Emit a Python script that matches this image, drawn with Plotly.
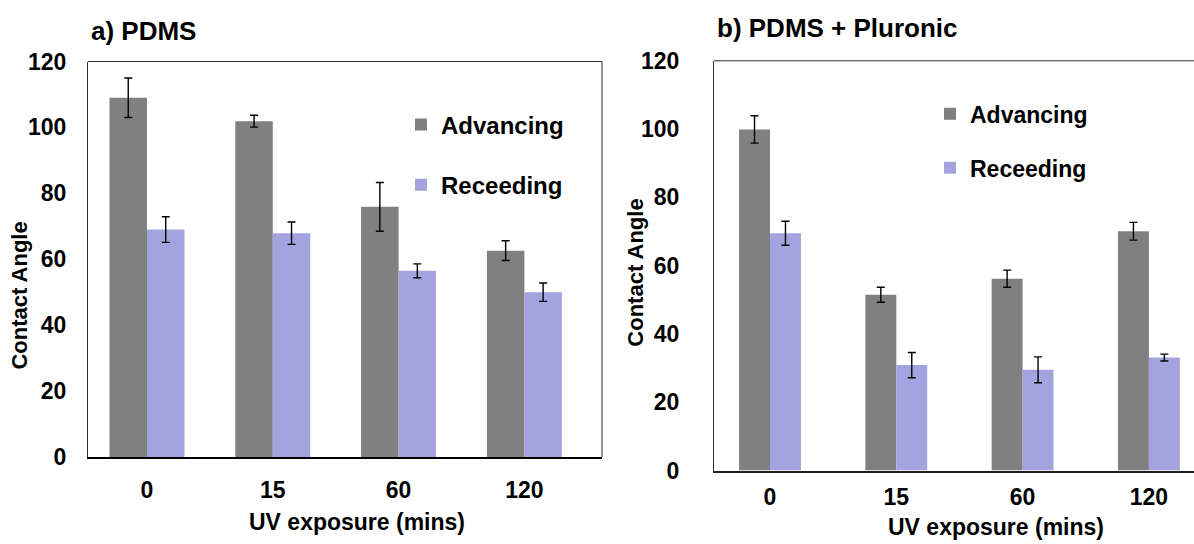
import plotly.graph_objects as go

# UV exposure times (minutes)
categories = ["0", "15", "60", "120"]

# a) PDMS: contact angles (degrees) and standard deviations
pdms_advancing = [109.0, 101.9, 75.9, 62.6]
pdms_advancing_err = [6.0, 1.8, 7.4, 3.0]
pdms_receding = [69.0, 67.9, 56.5, 50.0]
pdms_receding_err = [3.9, 3.4, 2.1, 2.8]

# b) PDMS + Pluronic: contact angles (degrees) and standard deviations
plu_advancing = [99.9, 51.5, 56.2, 70.1]
plu_advancing_err = [4.0, 2.2, 2.5, 2.6]
plu_receding = [69.5, 30.9, 29.5, 33.1]
plu_receding_err = [3.5, 3.7, 3.8, 1.0]

y_ticks = [0, 20, 40, 60, 80, 100, 120]

GRAY = "#808080"
LILAC = "#A3A3DF"
FONT = "Liberation Sans, Arial, sans-serif"
W, H = 1194, 544

# layout rows are given in screen pixels; the page shows the figure
# with a small top inset and a slight vertical squeeze
TOP_INSET, V_SCALE = 12.3, 0.956


def col(v):
    """Screen x pixel -> paper fraction."""
    return min(1.0, max(0.0, v / W))


def row(v):
    """Screen y pixel (from top) -> paper fraction."""
    fy = (v - TOP_INSET) / V_SCALE
    return min(1.0, max(0.0, 1 - fy / H))


def err(arr):
    return dict(type="data", array=arr, visible=True, color="black",
                thickness=1.4, width=4)


fig = go.Figure()

# panel a bars
wa = 0.298
fig.add_trace(go.Bar(x=categories, y=pdms_advancing, error_y=err(pdms_advancing_err),
                     marker=dict(color=GRAY, line=dict(width=0)), width=wa, offset=-wa,
                     name="Advancing", legend="legend", legendgroup="a_adv",
                     xaxis="x", yaxis="y"))
fig.add_trace(go.Bar(x=categories, y=pdms_receding, error_y=err(pdms_receding_err),
                     marker=dict(color=LILAC, line=dict(width=0)), width=wa, offset=0,
                     name="Receeding", legend="legend", legendgroup="a_rec",
                     xaxis="x", yaxis="y"))

# panel b bars
wb = 0.245
fig.add_trace(go.Bar(x=categories, y=plu_advancing, error_y=err(plu_advancing_err),
                     marker=dict(color=GRAY, line=dict(width=0)), width=wb, offset=-wb,
                     name="Advancing", legend="legend2", legendgroup="b_adv",
                     xaxis="x2", yaxis="y2"))
fig.add_trace(go.Bar(x=categories, y=plu_receding, error_y=err(plu_receding_err),
                     marker=dict(color=LILAC, line=dict(width=0)), width=wb, offset=0,
                     name="Receeding", legend="legend2", legendgroup="b_rec",
                     xaxis="x2", yaxis="y2"))

tickfont = dict(family=FONT, size=23, color="black", weight="bold")

ax_common = dict(type="category", showgrid=False, zeroline=False, ticks="",
                 tickfont=tickfont, fixedrange=True)
ay_common = dict(range=[0, 120], tickvals=y_ticks, showgrid=False, zeroline=False,
                 ticks="", tickfont=tickfont, showline=True, linecolor="#303030",
                 linewidth=1, fixedrange=True)

# right panel runs off the page edge; its category band is ~126.3 px
band_b = 126.3
b_left, b_first = 714, 770
b_range = [-(b_first - b_left) / band_b, (W - b_first) / band_b]

fig.update_layout(
    width=W, height=H,
    margin=dict(l=0, r=0, t=0, b=0),
    paper_bgcolor="white", plot_bgcolor="white",
    barmode="overlay",
    font=dict(family=FONT, color="black", weight="bold"),
    xaxis=dict(ax_common, domain=[col(88), col(602)], range=[-0.469, 3.617],
               anchor="y", showline=True, linecolor="black", linewidth=2,
               ticklabelstandoff=11),
    yaxis=dict(ay_common, domain=[row(458), row(61)], anchor="x",
               ticklabelstandoff=16),
    xaxis2=dict(ax_common, domain=[col(b_left), 1.0], range=b_range,
                anchor="y2", showline=True, linecolor="#202020", linewidth=1.5,
                ticklabelstandoff=5),
    yaxis2=dict(ay_common, domain=[row(471.7), row(60.3)], anchor="x2",
                ticklabelstandoff=29),
    legend=dict(x=col(401), xanchor="left", y=row(102), yanchor="top",
                font=dict(family=FONT, size=24, color="black", weight="bold"),
                bgcolor="rgba(0,0,0,0)", traceorder="grouped", tracegroupgap=26),
    legend2=dict(x=col(930), xanchor="left", y=row(92), yanchor="top",
                 font=dict(family=FONT, size=23, color="black", weight="bold"),
                 bgcolor="rgba(0,0,0,0)", traceorder="grouped", tracegroupgap=21),
    showlegend=True,
)

# plot frames (top and right borders)
fig.add_shape(type="line", xref="x domain", yref="y domain", x0=0, x1=1, y0=1, y1=1,
              line=dict(color="#303030", width=1))
fig.add_shape(type="line", xref="x domain", yref="y domain", x0=1, x1=1, y0=0, y1=1,
              line=dict(color="#303030", width=1))
fig.add_shape(type="line", xref="x2 domain", yref="y2 domain", x0=0, x1=1, y0=1, y1=1,
              line=dict(color="#303030", width=1))

# panel labels and axis titles
annos = [
    dict(text="a) PDMS", x=col(89), y=row(30), xanchor="left", size=26, angle=0),
    dict(text="b) PDMS + Pluronic", x=col(715), y=row(27), xanchor="left", size=26, angle=0),
    dict(text="UV exposure (mins)", x=col(357), y=row(523), xanchor="center", size=23, angle=0),
    dict(text="UV exposure (mins)", x=col(996), y=row(528), xanchor="center", size=23, angle=0),
    dict(text="Contact Angle", x=col(20), y=row(296), xanchor="center", size=22, angle=-90),
    dict(text="Contact Angle", x=col(636), y=row(273), xanchor="center", size=22, angle=-90),
]
for a in annos:
    fig.add_annotation(text=a["text"], xref="paper", yref="paper", x=a["x"], y=a["y"],
                       xanchor=a["xanchor"], yanchor="middle", textangle=a["angle"],
                       showarrow=False,
                       font=dict(family=FONT, size=a["size"], color="black", weight="bold"))

fig.write_html("out.html")
